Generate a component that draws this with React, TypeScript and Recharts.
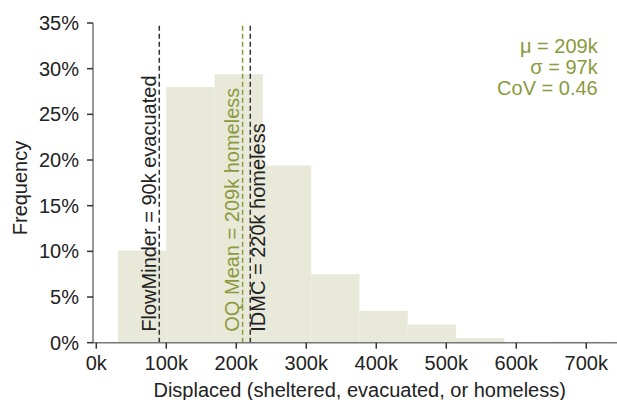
import React from "react";
import { ComposedChart, XAxis, YAxis, ReferenceArea, ReferenceLine, Line } from "recharts";

// histogram bins, in thousands of people
const binEdges = [31, 100, 169, 238, 307, 376, 445, 514, 583, 652, 721];
const frequencies = [10.1, 28.0, 29.4, 19.4, 7.5, 3.5, 2.0, 0.5, 0, 0.1];

const xTicks = [0, 100, 200, 300, 400, 500, 600, 700];
const yTicks = [0, 5, 10, 15, 20, 25, 30, 35];

const refValues = [90, 209, 220];
const refLabels = ["FlowMinder = 90k evacuated", "OQ Mean = 209k homeless", "IDMC = 220k homeless"];
const refIsMean = [false, true, false];

const statLines = ["μ = 209k", "σ = 97k", "CoV = 0.46"];

const FONT = "'Liberation Sans', Arial, Helvetica, sans-serif";
const OLIVE = "#8b9a3c";
const BAR = "#e8e9d9";
const INK = "#222";

// where each rotated label sits relative to its line (baseline offset)
const labelOffsets = [-3.3, -3.3, 15];

const bins = frequencies.map((f, i) => ({
  start: binEdges[i],
  end: binEdges[i + 1],
  mid: (binEdges[i] + binEdges[i + 1]) / 2,
  freq: f,
}));

const RotatedLabel = (text: string, color: string, dx: number) => (props: any) => {
  const vb = props.viewBox || {};
  const x = (vb.x ?? 0) + dx;
  const y = (vb.y ?? 0) + (vb.height ?? 0) - 11;
  return (
    <text
      x={x}
      y={y}
      transform={`rotate(-90 ${x} ${y})`}
      fill={color}
      fontSize={20}
      fontFamily={FONT}
      textAnchor="start"
    >
      {text}
    </text>
  );
};

export default function App() {
  return (
    <div style={{ position: "absolute", left: 0, top: 0, width: 617, height: 400, fontFamily: FONT }}>
      <ComposedChart
        width={617}
        height={400}
        data={bins}
        margin={{ top: 23, right: 0, bottom: 0, left: 0 }}
      >
        <XAxis
          type="number"
          dataKey="mid"
          domain={[-4.7, 743.9]}
          ticks={xTicks}
          allowDataOverflow
          tickFormatter={(v) => `${v}k`}
          height={57.3}
          tickSize={6}
          tickMargin={7}
          axisLine={{ stroke: "#777", strokeWidth: 1.5 }}
          tickLine={{ stroke: "#333", strokeWidth: 1.5 }}
          tick={{ fill: INK, fontSize: 20, fontFamily: FONT }}
        />
        <YAxis
          type="number"
          domain={[0, 35]}
          ticks={yTicks}
          allowDataOverflow
          tickFormatter={(v) => `${v}%`}
          width={93}
          tickSize={6}
          tickMargin={8}
          axisLine={{ stroke: "#777", strokeWidth: 1.5 }}
          tickLine={{ stroke: "#333", strokeWidth: 1.5 }}
          tick={{ fill: INK, fontSize: 20, fontFamily: FONT }}
        />
        {bins.map((b) => (
          <ReferenceArea
            key={b.start}
            x1={b.start}
            x2={b.end}
            y1={0}
            y2={b.freq}
            fill={BAR}
            fillOpacity={1}
            stroke="none"
          />
        ))}
        <Line dataKey="freq" stroke="none" dot={false} activeDot={false} isAnimationActive={false} />
        {refValues.map((v, i) => (
          <ReferenceLine
            key={v}
            x={v}
            stroke={refIsMean[i] ? OLIVE : "#333"}
            strokeWidth={1.5}
            strokeDasharray="5 3"
            label={RotatedLabel(refLabels[i], refIsMean[i] ? OLIVE : INK, labelOffsets[i])}
          />
        ))}
      </ComposedChart>
      <svg
        width={617}
        height={400}
        style={{ position: "absolute", left: 0, top: 0, pointerEvents: "none" }}
      >
        {statLines.map((s, i) => (
          <text key={s} x={597.7} y={53.3 + i * 20.8} textAnchor="end" fill={OLIVE} fontSize={20} fontFamily={FONT}>
            {s}
          </text>
        ))}
        <text
          x={27}
          y={188}
          transform="rotate(-90 27 188)"
          textAnchor="middle"
          fill={INK}
          fontSize={20}
          fontFamily={FONT}
        >
          Frequency
        </text>
        <text x={359.7} y={397.3} textAnchor="middle" fill={INK} fontSize={20} fontFamily={FONT}>
          Displaced (sheltered, evacuated, or homeless)
        </text>
      </svg>
    </div>
  );
}
